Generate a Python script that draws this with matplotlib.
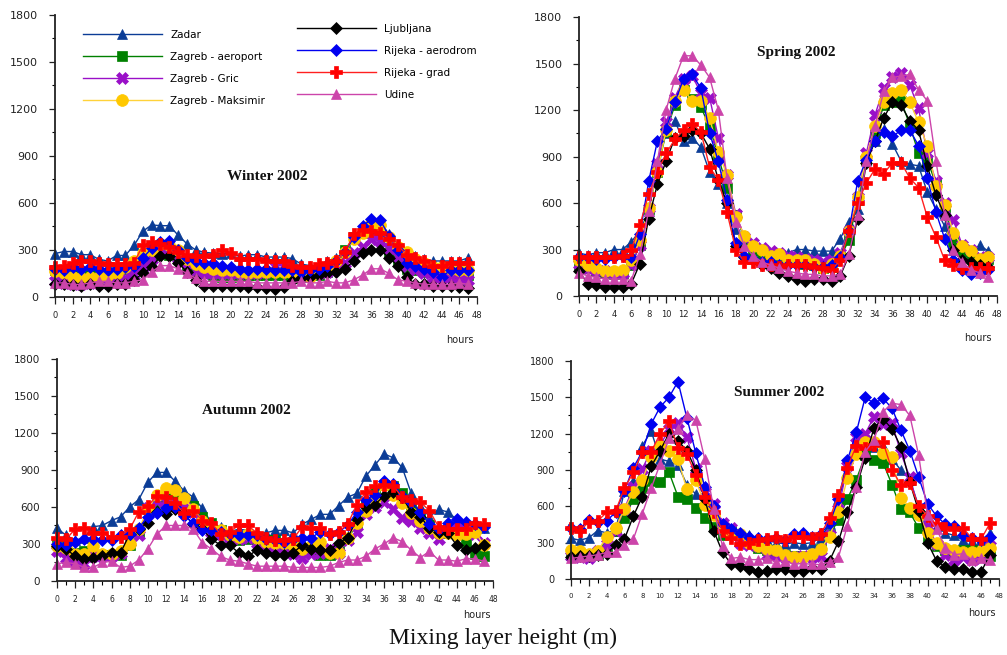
import matplotlib
matplotlib.use("Agg")
import matplotlib.pyplot as plt
from matplotlib.ticker import MultipleLocator

hours = list(range(48))
stations = ["Zadar", "Zagreb - aeroport", "Zagreb - Gric", "Zagreb - Maksimir",
            "Ljubljana", "Rijeka - aerodrom", "Rijeka - grad", "Udine"]
seasons = ["Winter 2002", "Spring 2002", "Autumn 2002", "Summer 2002"]
y_ticks = [0, 300, 600, 900, 1200, 1500, 1800]
x_ticks = list(range(0, 49, 2))

# ---------------- Winter ----------------
winter_zadar = [277,290,290,270,270,240,230,265,265,330,420,460, 455,455,395,340,300,285,280,275,280,260,270,270,
                255,255,255,245,210,200,200,230,250,290,380,450, 490,480,400,330,280,260,240,230,230,230,230,250]
winter_zagreb_aero = [170,160,140,130,140,150,150,160,180,200,250,270, 280,270,240,200,160,150,140,130,130,140,140,140,
                      140,140,140,120,130,140,140,160,200,300,380,410, 430,410,280,230,180,170,160,160,150,150,150,140]
winter_zagreb_gric = [100,90,80,80,90,90,90,100,120,140,190,240, 300,290,250,220,170,150,150,150,150,150,150,150,
                      160,200,200,160,150,150,150,160,200,220,280,320, 370,360,310,260,200,170,150,130,120,130,120,110]
winter_zagreb_maks = [165,150,130,120,130,130,140,150,190,230,280,300, 340,330,300,240,210,190,180,170,170,160,150,160,
                      160,160,160,150,150,130,160,180,230,290,370,410, 470,460,380,320,290,240,220,190,190,180,170,170]
winter_ljubljana = [80,80,75,70,80,70,70,80,80,110,150,190, 260,260,220,160,110,70,70,70,70,70,65,65,
                    60,50,65,100,120,130,140,150,160,180,230,280, 300,300,250,200,130,80,80,70,70,70,65,60]
winter_rijeka_aero = [180,170,190,180,190,180,170,180,190,200,250,310, 350,360,300,250,230,220,220,200,190,180,170,180,
                      180,170,170,170,160,170,180,200,230,290,380,450, 500,490,390,300,220,200,180,160,130,170,170,170]
winter_rijeka_grad = [190,200,220,230,230,220,210,210,210,220,330,350, 340,320,290,270,260,260,270,300,280,240,240,240,
                      230,230,230,200,190,190,210,220,230,290,400,430, 420,410,370,330,270,250,230,200,200,220,220,220]
winter_udine = [90,90,80,80,90,100,100,90,90,100,110,160, 200,200,180,150,120,100,100,100,100,100,100,90,
                90,90,90,90,100,90,90,100,90,90,110,140, 180,180,150,110,100,90,80,80,80,80,90,80]

# ---------------- Spring ----------------
spring_zadar = [277,265,280,280,300,300,350,420,550,850,1050,1130, 1000,1020,960,800,720,600,430,330,300,280,260,260,
                280,300,300,290,290,290,370,480,560,880,1000,1080, 980,870,850,840,670,560,450,300,260,250,330,290]
spring_zagreb_aero = [200,180,160,150,140,150,200,330,560,800,1060,1230, 1330,1270,1220,1090,900,700,520,370,300,260,240,220,
                      220,220,210,200,180,190,250,360,620,880,1050,1230, 1250,1260,1100,920,880,720,570,350,290,260,240,240]
spring_zagreb_gric = [210,180,170,160,150,150,200,330,570,850,1120,1280, 1400,1420,1310,1280,1020,780,530,380,340,310,290,280,
                      260,250,240,230,220,230,280,420,640,920,1170,1340, 1410,1440,1360,1210,920,740,600,490,330,300,250,250]
spring_zagreb_maks = [230,200,180,160,160,170,230,360,570,800,1070,1260, 1330,1260,1260,1150,930,780,510,390,320,300,260,270,
                      230,230,230,210,180,210,260,420,640,900,1100,1250, 1310,1330,1250,1120,970,710,590,410,320,290,240,250]
spring_ljubljana = [160,80,70,60,60,60,80,210,500,720,870,1020, 1030,1070,1050,950,750,600,320,250,230,200,180,150,
                    130,110,100,110,110,100,130,260,500,860,1000,1150, 1250,1230,1130,1070,840,650,520,300,230,220,200,190]
spring_rijeka_aero = [250,250,240,240,250,260,250,400,740,1000,1080,1250, 1400,1430,1340,1050,870,620,340,260,240,220,220,200,
                      200,200,200,190,190,200,250,420,740,880,1000,1060, 1030,1070,1070,970,760,540,370,230,170,140,150,170]
spring_rijeka_grad = [250,250,250,250,250,260,300,460,660,800,920,1010, 1070,1110,1060,830,750,540,300,220,220,200,200,190,
                      200,200,200,190,180,170,230,420,600,730,820,790, 860,860,760,700,510,380,230,200,180,180,180,180]
spring_udine = [150,130,120,110,110,110,100,270,550,870,1200,1400, 1550,1550,1490,1410,1200,760,480,320,260,220,200,180,
                160,150,140,140,130,130,140,270,520,870,1100,1320, 1410,1420,1430,1330,1260,870,520,300,220,170,150,120]

# ---------------- Autumn ----------------
autumn_zadar = [428,370,330,350,440,450,490,520,600,660,800,880, 880,810,730,680,590,470,440,400,420,410,390,390,
                410,410,390,460,500,540,540,610,680,710,850,940, 1030,1000,920,710,610,520,580,560,500,480,460,430]
autumn_zagreb_aero = [300,280,230,240,210,210,210,210,290,390,580,640, 680,660,620,610,520,470,410,340,330,340,350,330,
                      330,300,280,250,250,210,210,240,340,460,620,730, 780,770,710,620,530,450,400,390,380,320,220,200]
autumn_zagreb_gric = [240,190,160,140,200,200,200,230,320,370,590,650, 650,620,610,560,450,400,380,350,340,350,310,280,
                      270,260,220,190,220,230,260,230,330,400,540,600, 640,580,510,490,430,390,340,420,420,410,380,310]
autumn_zagreb_maks = [280,270,220,220,280,220,220,240,300,420,580,700, 750,740,670,580,490,440,410,370,360,380,350,320,
                      310,310,290,260,280,320,230,230,350,470,570,670, 780,700,630,550,490,430,390,390,370,380,400,290]
autumn_ljubljana = [280,260,200,180,190,200,230,230,380,420,470,560, 540,580,540,460,420,340,290,290,230,200,250,230,
                    210,210,230,290,260,250,250,310,350,500,600,620, 690,720,680,560,520,430,400,390,290,250,270,290]
autumn_rijeka_aero = [300,290,320,340,340,330,330,370,380,430,520,550, 590,600,530,470,410,410,400,380,370,370,370,340,
                      330,320,340,350,350,400,380,400,450,560,660,700, 810,790,690,640,560,460,420,470,500,480,460,440]
autumn_rijeka_grad = [350,340,420,430,390,390,360,360,420,560,610,690, 680,630,550,570,490,470,380,400,450,450,390,350,
                      330,330,340,440,430,430,380,400,460,620,720,770, 780,770,680,660,640,570,440,420,420,420,470,460]
autumn_udine = [140,150,140,110,110,150,160,110,120,170,260,380, 450,450,450,420,310,260,200,170,160,140,120,120,
                120,120,110,110,110,110,120,150,170,170,200,260, 300,350,320,250,190,240,170,170,160,180,180,160]

# ---------------- Summer ----------------
summer_zadar = [336,320,340,400,380,400,730,810,1100,1220,990,970, 940,780,700,640,580,450,410,380,360,340,320,300,
                290,300,290,300,340,450,660,890,1150,1110,1090,1100, 990,900,820,600,520,440,380,360,320,310,320,380]
summer_zagreb_aero = [200,190,200,200,250,400,500,660,750,810,800,880, 680,660,590,500,430,360,400,350,300,260,240,220,
                      200,190,190,190,250,360,490,660,820,1020,980,960, 780,580,550,420,330,270,240,230,240,240,220,190]
summer_zagreb_gric = [190,180,170,230,290,400,580,760,910,1060,1100,1240, 1290,1170,910,720,620,460,420,300,280,270,200,200,
                      180,180,190,180,190,360,580,930,1170,1200,1340,1280, 1290,1040,840,580,440,290,200,160,180,160,170,320]
summer_zagreb_maks = [240,230,210,230,350,420,580,720,820,1010,1100,1060, 990,740,820,610,530,420,380,370,300,270,250,240,
                      200,180,180,210,250,350,550,830,1030,1130,1130,1040, 1010,670,590,530,380,300,260,240,220,220,230,260]
summer_ljubljana = [180,190,190,200,210,280,330,520,680,930,1060,1200, 1140,1060,900,660,400,220,120,110,80,60,70,80,
                    80,70,70,90,80,150,310,550,760,1000,1250,1320, 1240,1090,800,560,300,150,100,80,80,60,60,200]
summer_rijeka_aero = [420,410,490,470,480,550,730,920,1050,1280,1420,1500, 1630,1330,1040,760,600,450,410,380,350,340,330,340,
                      320,370,380,350,370,460,660,980,1210,1500,1450,1490, 1410,1230,1060,840,620,520,450,440,360,340,320,350]
summer_rijeka_grad = [420,400,470,480,550,560,750,880,1050,1050,1200,1300, 1080,1030,860,680,550,400,340,290,300,320,330,350,
                      320,350,350,340,370,500,690,920,1100,1080,1110,1130, 900,780,790,600,520,450,420,410,420,330,330,460]
summer_udine = [170,180,190,200,220,220,280,330,540,750,950,1160, 1240,1350,1310,990,580,270,170,180,160,160,170,140,
                150,120,130,120,120,140,180,440,760,1050,1150,1380, 1450,1440,1350,1020,530,410,260,200,210,160,170,160]

season_data = {
    "Winter 2002": [winter_zadar, winter_zagreb_aero, winter_zagreb_gric, winter_zagreb_maks,
                    winter_ljubljana, winter_rijeka_aero, winter_rijeka_grad, winter_udine],
    "Spring 2002": [spring_zadar, spring_zagreb_aero, spring_zagreb_gric, spring_zagreb_maks,
                    spring_ljubljana, spring_rijeka_aero, spring_rijeka_grad, spring_udine],
    "Autumn 2002": [autumn_zadar, autumn_zagreb_aero, autumn_zagreb_gric, autumn_zagreb_maks,
                    autumn_ljubljana, autumn_rijeka_aero, autumn_rijeka_grad, autumn_udine],
    "Summer 2002": [summer_zadar, summer_zagreb_aero, summer_zagreb_gric, summer_zagreb_maks,
                    summer_ljubljana, summer_rijeka_aero, summer_rijeka_grad, summer_udine],
}

styles = [
    dict(color="#0B3C96", marker="^", mfc="#0B3C96", mec="#0B3C96"),
    dict(color="#008000", marker="s", mfc="#008000", mec="#008000"),
    dict(color="#9A10C8", marker="X", mfc="#9A10C8", mec="#9A10C8"),
    dict(color="#FFD23A", marker="o", mfc="#FFC800", mec="#FFC800"),
    dict(color="#000000", marker="D", mfc="#000000", mec="#000000"),
    dict(color="#0000F0", marker="D", mfc="#0000F0", mec="#0000F0"),
    dict(color="#FF2020", marker="P", mfc="#FF0000", mec="#FF0000"),
    dict(color="#CC44AA", marker="^", mfc="#CC44AA", mec="#CC44AA"),
]
msizes = [7.5, 6.5, 8, 8.5, 6.5, 6.5, 8.5, 7.5]

fig = plt.figure(figsize=(10.07, 6.55), dpi=100)

# [left, bottom, width, height] in figure fraction
positions = {
    "Winter 2002": [0.0546, 0.5466, 0.419, 0.4305],
    "Spring 2002": [0.575, 0.548, 0.415, 0.426],
    "Autumn 2002": [0.0566, 0.113, 0.433, 0.339],
    "Summer 2002": [0.567, 0.116, 0.425, 0.333],
}
title_pos = {
    "Winter 2002": (24.2, 772),
    "Spring 2002": (25.0, 1568),
    "Autumn 2002": (20.9, 1386),
    "Summer 2002": (23.3, 1536),
}
xtick_fs = {"Winter 2002": 6, "Spring 2002": 6, "Autumn 2002": 5.5, "Summer 2002": 5}
ytick_fs = {"Winter 2002": 8, "Spring 2002": 8, "Autumn 2002": 7.5, "Summer 2002": 7}

axes = {}
for season in seasons:
    ax = fig.add_axes(positions[season])
    axes[season] = ax
    for i, (name, vals) in enumerate(zip(stations, season_data[season])):
        st = styles[i]
        ax.plot(hours, vals, color=st["color"], lw=1.0, marker=st["marker"],
                markersize=msizes[i], markerfacecolor=st["mfc"],
                markeredgecolor=st["mec"], markeredgewidth=0.5, label=name,
                clip_on=False)
    ax.set_xlim(0, 48)
    ax.set_ylim(0, 1800)
    ax.set_xticks(x_ticks)
    ax.set_xticklabels([str(t) for t in x_ticks])
    ax.set_yticks(y_ticks)
    ax.set_yticklabels([str(t) for t in y_ticks])
    ax.xaxis.set_minor_locator(MultipleLocator(1))
    ax.yaxis.set_minor_locator(MultipleLocator(150))
    for s in ["top", "right"]:
        ax.spines[s].set_visible(False)
    for s in ["left", "bottom"]:
        ax.spines[s].set_linewidth(1.3)
        ax.spines[s].set_color("#222222")
    ax.tick_params(axis="x", which="major", length=5, width=0.9, pad=5,
                   labelsize=xtick_fs[season], colors="#222222")
    ax.tick_params(axis="x", which="minor", length=3, width=0.8)
    ax.tick_params(axis="y", which="major", length=4, width=0.9, pad=8,
                   labelsize=ytick_fs[season], colors="#222222")
    ax.tick_params(axis="y", which="minor", length=2, width=0.8)
    ax.set_facecolor("none")
    tx, ty = title_pos[season]
    ax.text(tx, ty, season, ha="center", va="center", fontsize=11,
            fontweight="bold", family="Liberation Serif", color="#111111")

# Legend in the winter panel: two columns drawn as two legends
axw = axes["Winter 2002"]
handles, labels = axw.get_legend_handles_labels()
leg1 = axw.legend(handles[:4], labels[:4], loc="upper left", bbox_to_anchor=(0.066, 0.948),
                  frameon=False, fontsize=7.5, handlelength=7.6, handletextpad=0.8,
                  labelspacing=1.15, borderpad=0, borderaxespad=0, numpoints=1)
axw.add_artist(leg1)
leg2 = axw.legend(handles[4:], labels[4:], loc="upper left", bbox_to_anchor=(0.573, 0.969),
                  frameon=False, fontsize=7.5, handlelength=7.6, handletextpad=0.8,
                  labelspacing=1.15, borderpad=0, borderaxespad=0, numpoints=1)

# "hours" labels
for (x, y) in [(0.457, 0.481), (0.971, 0.484), (0.474, 0.061), (0.975, 0.064)]:
    fig.text(x, y, "hours", ha="center", va="center", fontsize=7, color="#222222")

fig.text(0.4995, 0.026, "Mixing layer height (m)", ha="center", va="center",
         fontsize=17, family="Liberation Serif", color="#111111")

fig.savefig("out.png", dpi=100)
